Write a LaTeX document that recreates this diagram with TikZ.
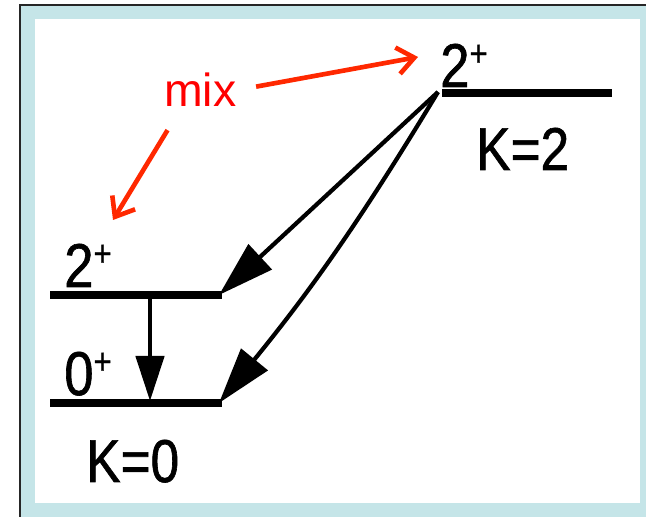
\documentclass[tikz,border=0pt]{standalone}
\usepackage{fontspec}
\setmainfont{Liberation Sans}
\newfontfamily\levelfont[FakeStretch=0.85, FakeBold=1]{Liberation Sans}
\usetikzlibrary{arrows.meta}
\definecolor{framebg}{RGB}{197,229,232}
\definecolor{mixred}{RGB}{255,40,0}

\begin{document}
\begin{tikzpicture}[
  x=0.025cm, y=-0.025cm,
  level/.style={line width=6.3pt},
  decay/.style={line width=3pt, -{Triangle[length=32pt, width=20pt]}},
  longdecay/.style={decay, -{Triangle[length=40pt, width=24pt]}},
  mixarrow/.style={mixred, line width=3.3pt, -{Straight Barb[length=12pt, width=19pt]}},
  spin/.style={font=\levelfont\fontsize{44}{44}\selectfont, inner sep=0pt, anchor=base west},
  klabel/.style={font=\levelfont\fontsize{43}{43}\selectfont, inner sep=0pt, anchor=base west},
]
  \useasboundingbox (0,0) rectangle (646,517);

  % Frame
  \fill[framebg] (20,5) rectangle (646,517);
  \fill[white] (35,19) rectangle (640,503);
  \draw[line width=1.4pt, black!85] (20,517) -- (20,5) -- (646,5);

  % Levels
  \coordinate (k2l) at (442,93);
  \coordinate (k2r) at (612,93);
  \coordinate (g2l) at (50,295);
  \coordinate (g2r) at (222,295);
  \coordinate (g0l) at (50,403);
  \coordinate (g0r) at (222,403);
  \draw[level] (k2l) -- (k2r);
  \draw[level] (g2l) -- (g2r);
  \draw[level] (g0l) -- (g0r);

  % Spin labels
  \node[spin] (s2top) at (440,87) {2\raisebox{15pt}{\fontsize{26}{26}\selectfont+}};
  \node[spin] (s2low) at (64,287) {2\raisebox{15pt}{\fontsize{26}{26}\selectfont+}};
  \node[spin] (s0low) at (64,395) {0\raisebox{15pt}{\fontsize{26}{26}\selectfont+}};
  \node[klabel] (k2) at (476,170) {K=2};
  \node[klabel] (k0) at (86,482) {K=0};

  % Transitions
  \coordinate (kick) at (438,92);
  \coordinate (g2tip) at (219,295);
  \coordinate (g0tip) at (219,403);
  \coordinate (g2m) at (150,297);
  \coordinate (g0m) at (150,401);
  \draw[longdecay] (kick) -- (g2tip);
  \draw[longdecay] (kick) to[bend left=4] (g0tip);
  \draw[decay] (g2m) -- (g0m);

  % Mixing
  \node[font=\fontsize{33}{33}\selectfont, text=red, inner sep=0pt, anchor=base west]
    (mix) at (164,107) {mix};
  \coordinate (mixtop) at (418,57);
  \coordinate (mixlow) at (113,220);
  \draw[mixarrow, shorten <=14pt] (mix.east) -- (mixtop);
  \draw[mixarrow, shorten <=19pt] (mix.222) -- (mixlow);

\end{tikzpicture}
\end{document}
